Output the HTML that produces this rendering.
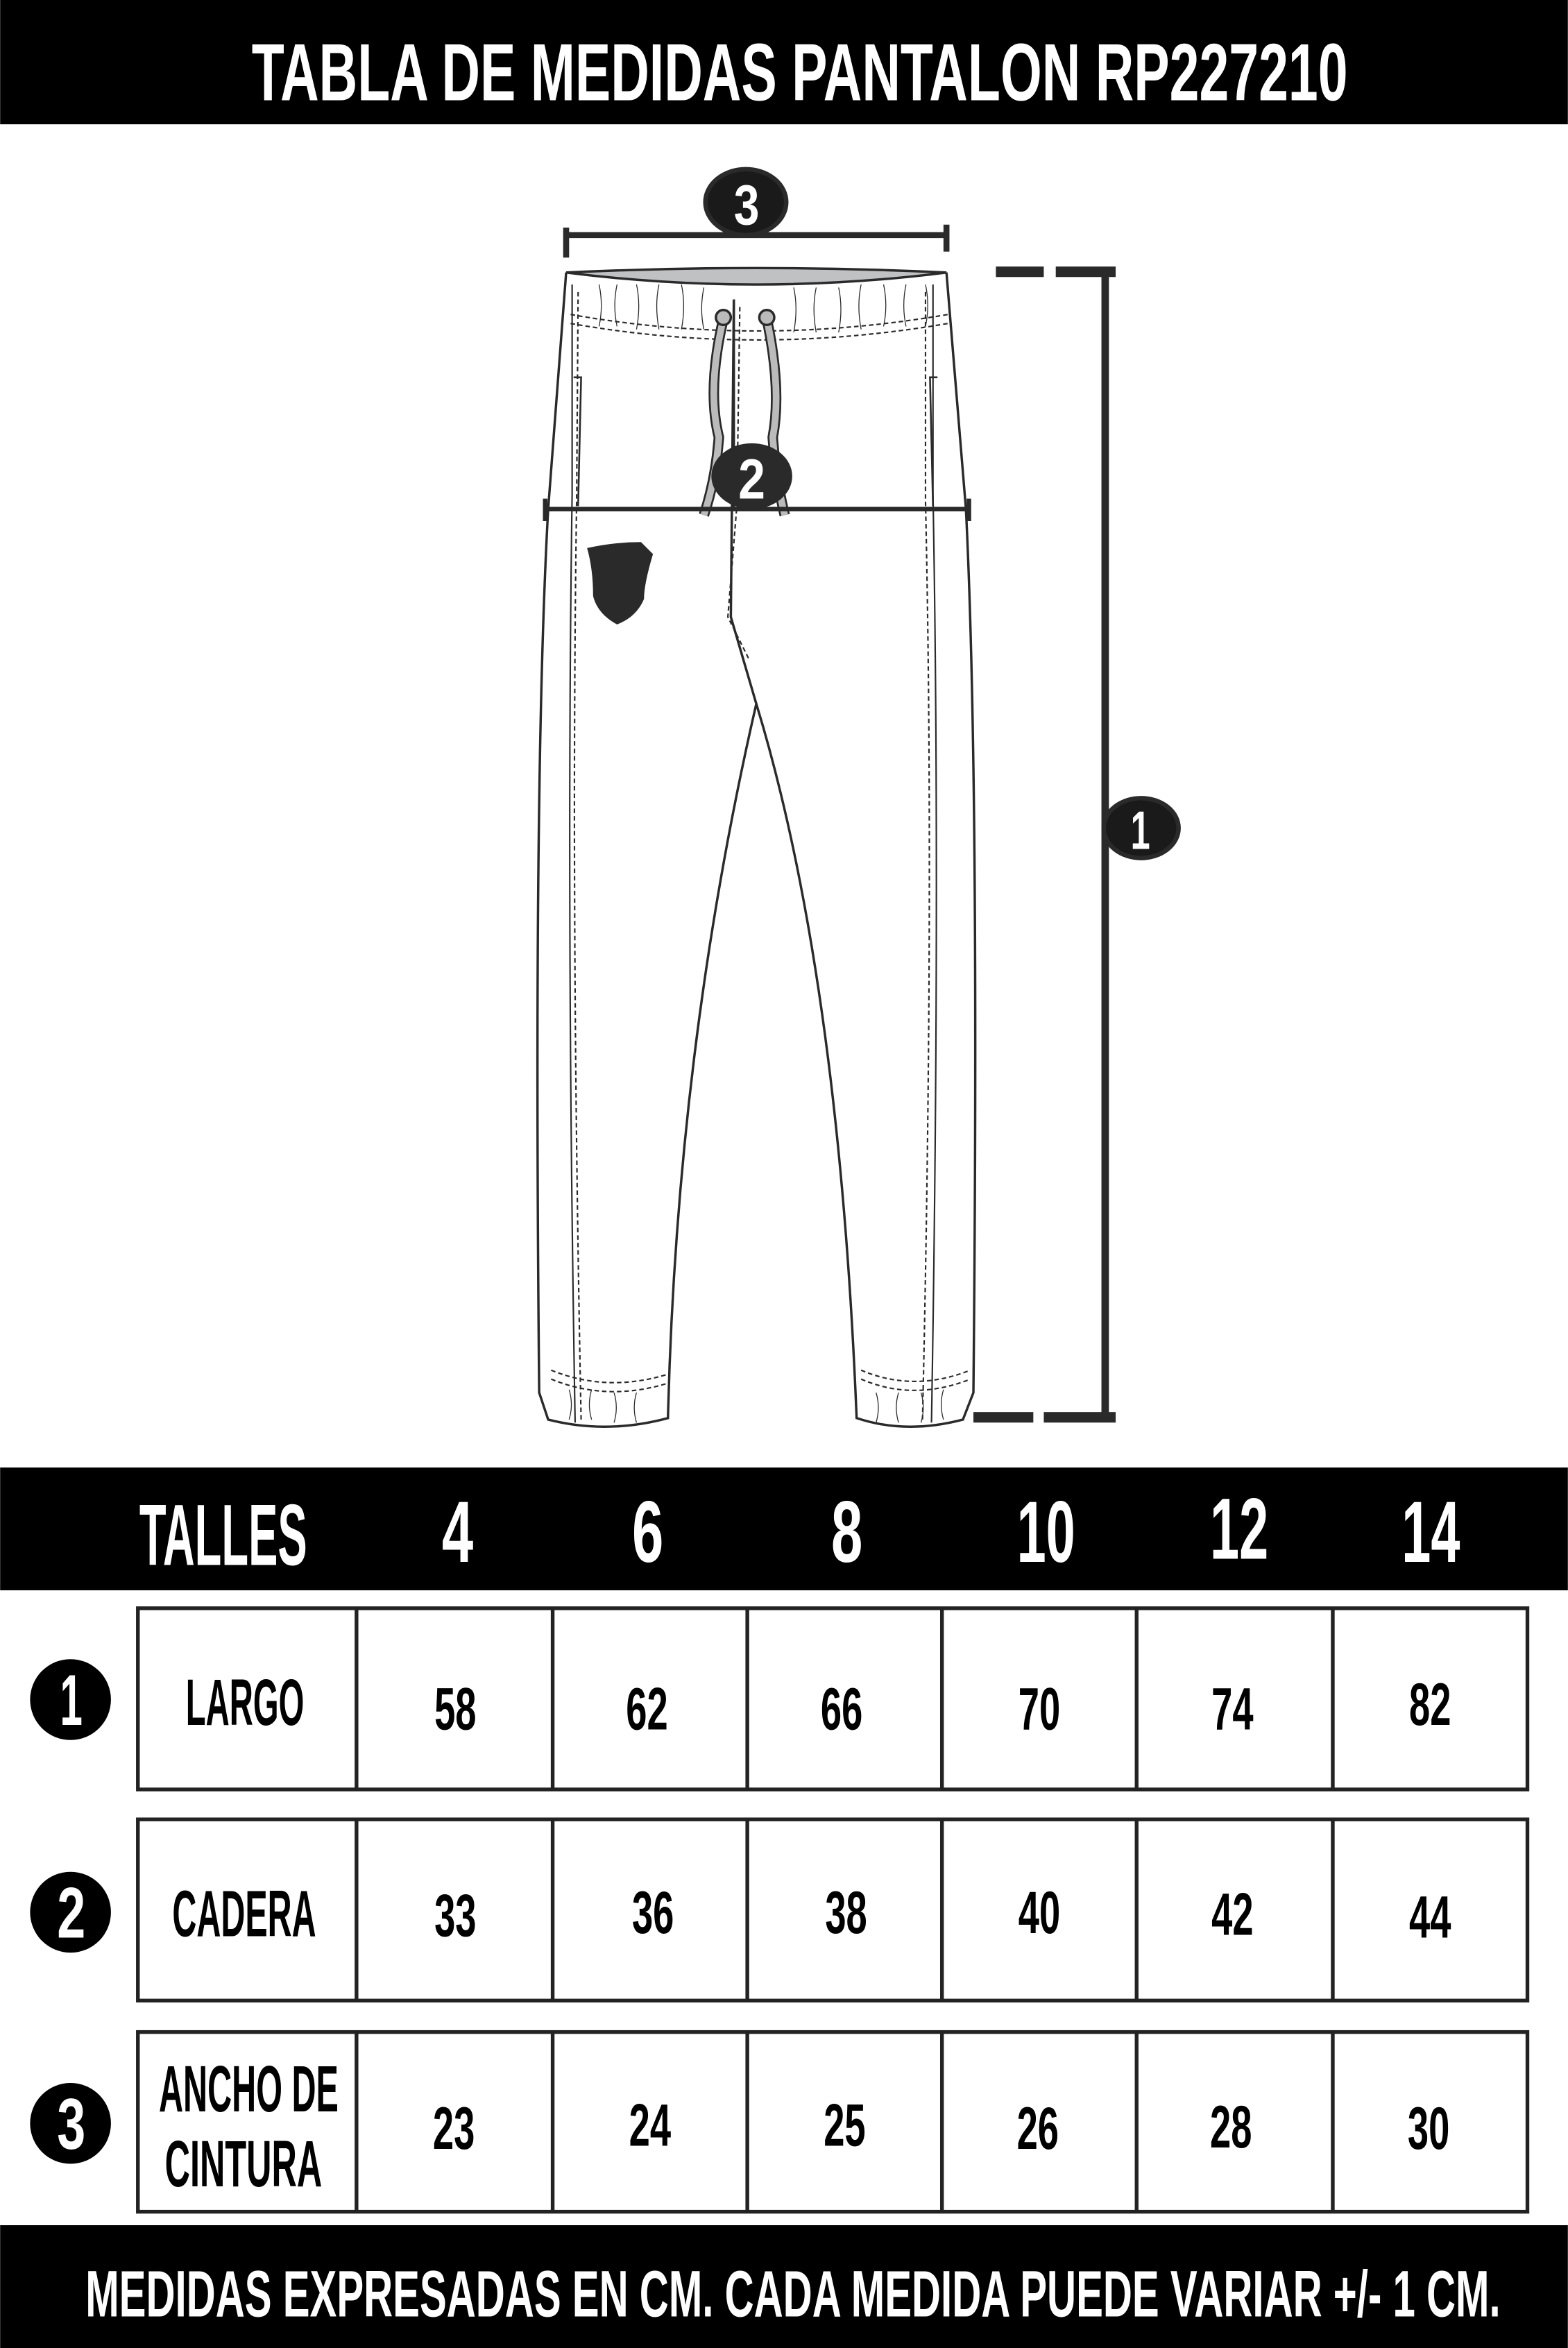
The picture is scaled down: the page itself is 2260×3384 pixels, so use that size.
<!DOCTYPE html>
<html><head><meta charset="utf-8"><style>
html,body{margin:0;padding:0;background:#fff;}
svg{display:block;}
text{font-family:"Liberation Sans Narrow","Liberation Sans",sans-serif;font-weight:bold;}
</style></head><body>
<svg width="2260" height="3384" viewBox="0 0 1047 1568" xmlns="http://www.w3.org/2000/svg">
<rect x="0" y="0" width="1047" height="83" fill="#000"/>
<text x="168" y="67" font-size="54" fill="#fff" textLength="732" lengthAdjust="spacingAndGlyphs">TABLA DE MEDIDAS PANTALON RP227210</text>

<!-- pants -->
<g fill="none" stroke="#2a2a2a" stroke-width="1.6">
<path d="M378,182 Q505,176 632,182 Q505,198 378,182 Z" fill="#c0c1c3"/>
<path d="M378,182 L366,340 Q356,520 360,930 L366,948 Q405,958 446,947 Q452,700 505,470 L488,412 L490,200"/>
<path d="M632,182 L645,340 Q654,520 650,930 L643,948 Q605,958 572,947 Q560,650 505,470"/>
<path d="M490,200 L490,340"/>
<path d="M382,190 L382,330 Q378,600 384,950" stroke-width="1"/>
<path d="M623,190 L623,330 Q628,600 622,950" stroke-width="1"/>
<path d="M386,195 L385,335 Q381,600 388,948" stroke-dasharray="3,2" stroke-width="1"/>
<path d="M618,195 L618,335 Q624,600 616,948" stroke-dasharray="3,2" stroke-width="1"/>
<path d="M381,210 Q505,232 633,210" stroke-dasharray="3,2" stroke-width="1"/>
<path d="M381,216 Q505,238 633,216" stroke-dasharray="3,2" stroke-width="1"/>
<path d="M494,205 L492,338 L486,412 L500,440" stroke-dasharray="3,2" stroke-width="1"/>
<path d="M383,252 L388,252 L386,338" stroke-width="1.2"/>
<path d="M626,252 L621,252 L623,338" stroke-width="1.2"/>
<path d="M368,915 Q405,930 445,918 M368,921 Q405,936 445,924 M575,915 Q610,930 648,915 M575,921 Q610,936 648,921" stroke-dasharray="3,2" stroke-width="1"/>
<path d="M400,190 q3,14 0,28 M412,190 q-3,14 0,28 M425,190 q3,14 0,30 M440,190 q-3,14 0,30 M455,190 q3,14 0,30 M470,192 q-3,14 0,28 M530,192 q3,14 0,30 M545,192 q-3,14 0,30 M560,192 q3,14 0,30 M575,190 q-3,14 0,30 M590,190 q3,14 0,28 M605,190 q-3,14 0,28 M618,190 q3,14 0,28 M380,928 q3,10 0,20 M395,928 q-3,10 0,20 M410,930 q3,10 0,20 M425,930 q-3,10 0,20 M585,930 q3,10 0,20 M600,930 q-3,10 0,20 M615,930 q3,10 0,20 M630,928 q-3,10 0,20" stroke-width="0.6"/>
<path d="M483,213 Q472,260 480,292 Q478,320 470,344" stroke="#2a2a2a" stroke-width="7"/>
<path d="M483,213 Q472,260 480,292 Q478,320 470,344" stroke="#bbb" stroke-width="4.5"/>
<path d="M512,213 Q522,260 516,292 Q518,320 524,344" stroke="#2a2a2a" stroke-width="7"/>
<path d="M512,213 Q522,260 516,292 Q518,320 524,344" stroke="#bbb" stroke-width="4.5"/>
<circle cx="483" cy="212" r="5" fill="#bbb"/><circle cx="512" cy="212" r="5" fill="#bbb"/>
</g>
<path d="M392,366 Q410,362 428,362 L436,370 Q430,390 430,400 Q425,412 412,417 Q399,410 396,398 Q396,380 392,366 Z" fill="#2a2a2a"/>

<!-- dimension lines -->
<g stroke="#2a2a2a" fill="#2a2a2a">
<line x1="378" y1="157" x2="632" y2="157" stroke-width="4"/>
<line x1="378" y1="152" x2="378" y2="172" stroke-width="4"/>
<line x1="632" y1="150" x2="632" y2="168" stroke-width="4"/>
<line x1="363" y1="340" x2="648" y2="340" stroke-width="3"/>
<line x1="364" y1="333" x2="364" y2="348" stroke-width="3"/>
<line x1="647" y1="333" x2="647" y2="348" stroke-width="3"/>
<line x1="738" y1="180" x2="738" y2="946" stroke-width="5"/>
<rect x="665" y="178" width="32" height="7" stroke="none"/>
<rect x="705" y="178" width="40" height="7" stroke="none"/>
<rect x="650" y="943" width="40" height="7" stroke="none"/>
<rect x="697" y="943" width="48" height="7" stroke="none"/>
</g>
<ellipse cx="498" cy="135" rx="27" ry="22" fill="#1a1a1a" stroke="#2a2a2a" stroke-width="3"/>
<text x="490" y="150" font-size="38" fill="#fff" textLength="17" lengthAdjust="spacingAndGlyphs">3</text>
<ellipse cx="502" cy="318" rx="27" ry="22" fill="#2a2a2a"/>
<text x="493" y="333" font-size="38" fill="#fff" textLength="18" lengthAdjust="spacingAndGlyphs">2</text>
<ellipse cx="762" cy="553" rx="25" ry="20" fill="#1a1a1a" stroke="#2a2a2a" stroke-width="3"/>
<text x="755" y="567" font-size="36" fill="#fff" textLength="13" lengthAdjust="spacingAndGlyphs">1</text>

<!-- table header -->
<rect x="0" y="980" width="1047" height="82" fill="#000"/>
<g fill="#fff" font-size="58">
<text x="93" y="1045" textLength="112" lengthAdjust="spacingAndGlyphs">TALLES</text>
<text x="295" y="1043" textLength="21" lengthAdjust="spacingAndGlyphs">4</text>
<text x="422" y="1043" textLength="21" lengthAdjust="spacingAndGlyphs">6</text>
<text x="555" y="1043" textLength="21" lengthAdjust="spacingAndGlyphs">8</text>
<text x="679" y="1043" textLength="39" lengthAdjust="spacingAndGlyphs">10</text>
<text x="808" y="1041" textLength="39" lengthAdjust="spacingAndGlyphs">12</text>
<text x="936" y="1043" textLength="39" lengthAdjust="spacingAndGlyphs">14</text>
</g>

<!-- rows -->
<g fill="none" stroke="#222" stroke-width="2.5">
<rect x="92" y="1074" width="928" height="121"/>
<rect x="92" y="1215" width="928" height="121"/>
<rect x="92" y="1357" width="928" height="120"/>
<path d="M238,1074V1195M369,1074V1195M499,1074V1195M629,1074V1195M759,1074V1195M890,1074V1195"/>
<path d="M238,1215V1336M369,1215V1336M499,1215V1336M629,1215V1336M759,1215V1336M890,1215V1336"/>
<path d="M238,1357V1477M369,1357V1477M499,1357V1477M629,1357V1477M759,1357V1477M890,1357V1477"/>
</g>
<g fill="#000">
<circle cx="47" cy="1135" r="27"/><circle cx="47" cy="1277" r="27"/><circle cx="47" cy="1418" r="27"/>
</g>
<g fill="#fff" font-size="48">
<text x="40" y="1152" textLength="15" lengthAdjust="spacingAndGlyphs">1</text>
<text x="38" y="1294" textLength="19" lengthAdjust="spacingAndGlyphs">2</text>
<text x="38" y="1435" textLength="19" lengthAdjust="spacingAndGlyphs">3</text>
</g>
<g fill="#000" font-size="44">
<text x="124" y="1152" textLength="79" lengthAdjust="spacingAndGlyphs">LARGO</text>
<text x="115" y="1293" textLength="96" lengthAdjust="spacingAndGlyphs">CADERA</text>
<text x="106" y="1410" textLength="120" lengthAdjust="spacingAndGlyphs">ANCHO DE</text>
<text x="110" y="1460" textLength="105" lengthAdjust="spacingAndGlyphs">CINTURA</text>
</g>
<g fill="#000" font-size="40" lengthAdjust="spacingAndGlyphs">
<text x="290" y="1155" textLength="28" lengthAdjust="spacingAndGlyphs">58</text>
<text x="418" y="1155" textLength="28" lengthAdjust="spacingAndGlyphs">62</text>
<text x="548" y="1155" textLength="28" lengthAdjust="spacingAndGlyphs">66</text>
<text x="680" y="1155" textLength="28" lengthAdjust="spacingAndGlyphs">70</text>
<text x="809" y="1155" textLength="28" lengthAdjust="spacingAndGlyphs">74</text>
<text x="941" y="1152" textLength="28" lengthAdjust="spacingAndGlyphs">82</text>
<text x="290" y="1293" textLength="28" lengthAdjust="spacingAndGlyphs">33</text>
<text x="422" y="1291" textLength="28" lengthAdjust="spacingAndGlyphs">36</text>
<text x="551" y="1291" textLength="28" lengthAdjust="spacingAndGlyphs">38</text>
<text x="680" y="1291" textLength="28" lengthAdjust="spacingAndGlyphs">40</text>
<text x="809" y="1292" textLength="28" lengthAdjust="spacingAndGlyphs">42</text>
<text x="941" y="1294" textLength="28" lengthAdjust="spacingAndGlyphs">44</text>
<text x="289" y="1435" textLength="28" lengthAdjust="spacingAndGlyphs">23</text>
<text x="420" y="1433" textLength="28" lengthAdjust="spacingAndGlyphs">24</text>
<text x="550" y="1433" textLength="28" lengthAdjust="spacingAndGlyphs">25</text>
<text x="679" y="1435" textLength="28" lengthAdjust="spacingAndGlyphs">26</text>
<text x="808" y="1434" textLength="28" lengthAdjust="spacingAndGlyphs">28</text>
<text x="940" y="1435" textLength="28" lengthAdjust="spacingAndGlyphs">30</text>
</g>

<rect x="0" y="1486" width="1047" height="82" fill="#000"/>
<text x="57" y="1547" font-size="44" fill="#fff" textLength="945" lengthAdjust="spacingAndGlyphs">MEDIDAS EXPRESADAS EN CM. CADA MEDIDA PUEDE VARIAR +/- 1 CM.</text>
</svg>
</body></html>
